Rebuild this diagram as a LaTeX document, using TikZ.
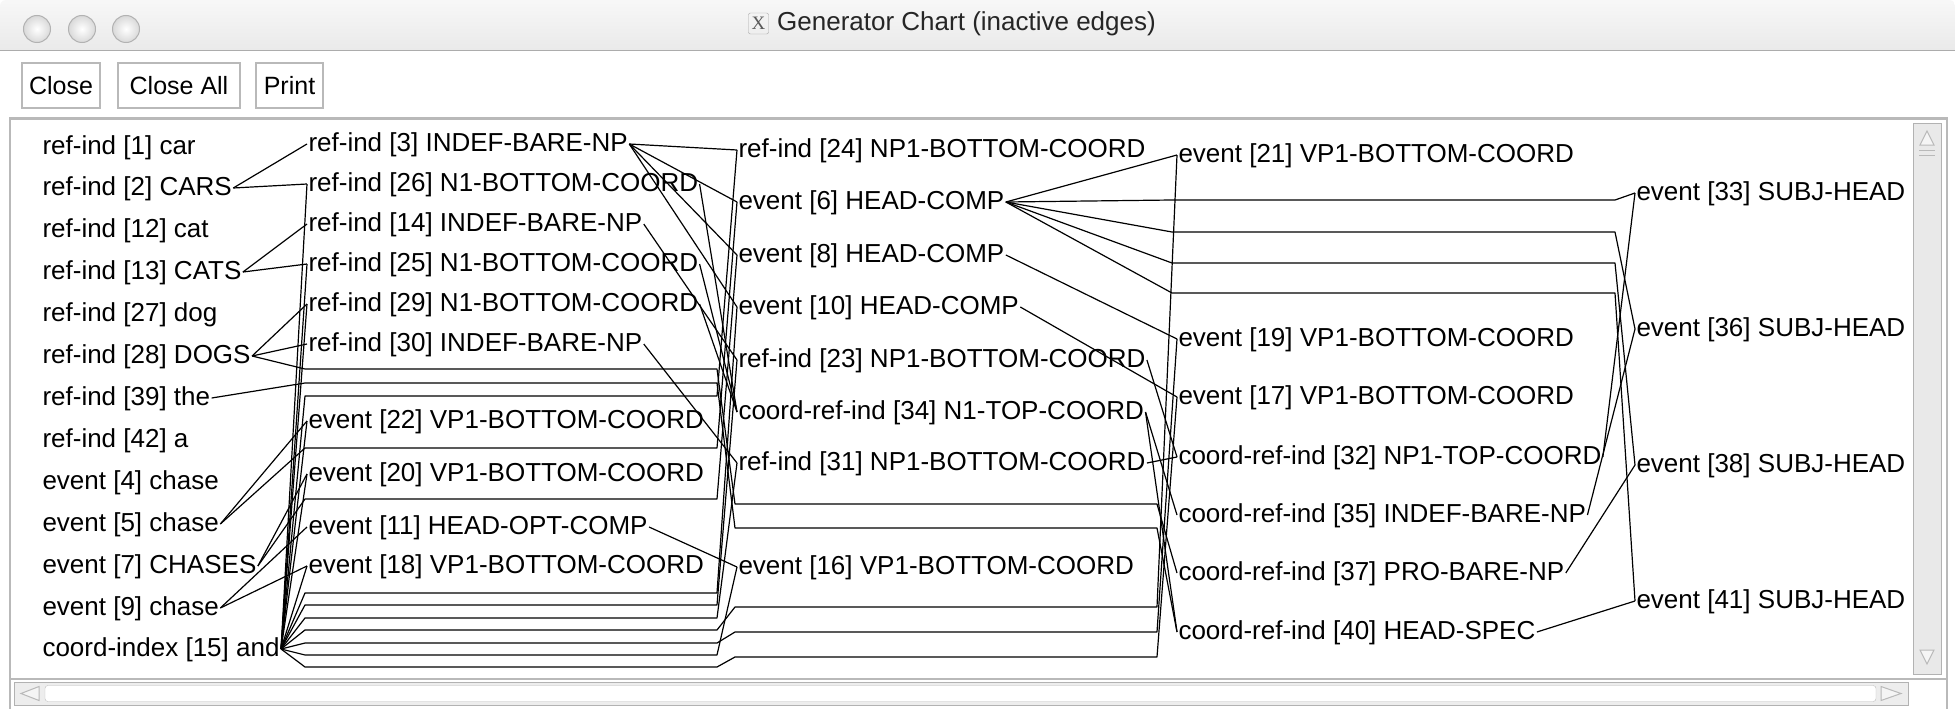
\documentclass[tikz,border=0pt]{standalone}
\usepackage{fontspec}
\setmainfont{Liberation Sans}
\newfontfamily\serifx{Liberation Serif}
\begin{document}
\begin{tikzpicture}[x=1pt,y=-1pt,
  lbl/.style={anchor=west,inner sep=0pt,outer sep=1.5pt,font=\fontsize{26}{30}\selectfont,text height=19pt,text depth=5pt},
  edge/.style={line width=1.2pt,black,line join=round},
  btn/.style={draw=gray!55,fill=white,line width=2pt,inner sep=0pt,font=\fontsize{25}{30}\selectfont,minimum height=44pt},
  chrome/.style={draw=gray!60,line width=1pt}]
\useasboundingbox (0,0) rectangle (1955,709);
\fill[white] (0,0) rectangle (1955,709);
% ---------- window chrome ----------
\shade[top color=gray!6,bottom color=gray!18,rounded corners=6pt] (0,0) rectangle (1955,56);
\fill[white] (0,51) rectangle (1955,709);
\draw[gray!65,line width=1.5pt] (0,50.5) -- (1955,50.5);
\foreach \cx in {37,82,126}{
  \shade[inner color=white,outer color=gray!30] (\cx,29) circle (13.5pt);
  \draw[gray!60,line width=1pt] (\cx,29) circle (13.5pt);
}
\node[draw=gray!70,rounded corners=2pt,minimum width=20pt,minimum height=21pt,inner sep=0pt,font=\serifx\fontsize{19}{20}\selectfont,text=gray!70!black] (xicon) at (758.5,23.5) {X};
\node[anchor=west,inner sep=0pt,font=\fontsize{26}{30}\selectfont,text=black!85] (title) at (777,23.5) {Generator Chart (inactive edges)};
\node[btn,minimum width=78pt] (bclose) at (61,85.5) {Close};
\node[btn,minimum width=122pt] (bcloseall) at (179,85.5) {Close All};
\node[btn,minimum width=67pt] (bprint) at (289.5,85.5) {Print};
% pane border
\draw[gray!55,line width=2.5pt] (10,709) -- (10,118.5) -- (1947,118.5) -- (1947,709);
% vertical scrollbar
\draw[chrome,fill=gray!17] (1913,123) rectangle (1941,674);
\draw[gray!55,fill=gray!8,line width=1pt] (1920,145) -- (1927,131) -- (1934,145) -- cycle;
\draw[gray!55,line width=1pt] (1919,150) -- (1935,150) (1919,155) -- (1935,155);
\draw[gray!55,fill=gray!8,line width=1pt] (1920,650) -- (1934,650) -- (1927,664) -- cycle;
% horizontal scrollbar
\draw[gray!55,line width=2pt] (10,679) -- (1947,679);
\draw[chrome,fill=gray!14] (14,682) rectangle (1908,705);
\draw[gray!50,fill=white,rounded corners=3pt] (45,685.5) rectangle (1876,701.5);
\draw[gray!55,fill=gray!8,line width=1pt] (39,686.5) -- (21,693.5) -- (39,700.5) -- cycle;
\draw[gray!55,fill=gray!8,line width=1pt] (1881,686.5) -- (1901,693.5) -- (1881,700.5) -- cycle;
% ---------- column 1 ----------
\node[lbl] (c1)  at (41,147) {ref-ind [1] car};
\node[lbl] (c2)  at (41,188) {ref-ind [2] CARS};
\node[lbl] (c12) at (41,230) {ref-ind [12] cat};
\node[lbl] (c13) at (41,272) {ref-ind [13] CATS};
\node[lbl] (c27) at (41,314) {ref-ind [27] dog};
\node[lbl] (c28) at (41,356) {ref-ind [28] DOGS};
\node[lbl] (c39) at (41,398) {ref-ind [39] the};
\node[lbl] (c42) at (41,440) {ref-ind [42] a};
\node[lbl] (c4)  at (41,482) {event [4] chase};
\node[lbl] (c5)  at (41,524) {event [5] chase};
\node[lbl] (c7)  at (41,566) {event [7] CHASES};
\node[lbl] (c9)  at (41,608) {event [9] chase};
\node[lbl] (c15) at (41,649) {coord-index [15] and};
% ---------- column 2 ----------
\node[lbl] (n3)  at (307,144) {ref-ind [3] INDEF-BARE-NP};
\node[lbl] (n26) at (307,184) {ref-ind [26] N1-BOTTOM-COORD};
\node[lbl] (n14) at (307,224) {ref-ind [14] INDEF-BARE-NP};
\node[lbl] (n25) at (307,264) {ref-ind [25] N1-BOTTOM-COORD};
\node[lbl] (n29) at (307,304) {ref-ind [29] N1-BOTTOM-COORD};
\node[lbl] (n30) at (307,344) {ref-ind [30] INDEF-BARE-NP};
\node[lbl] (n22) at (307,421) {event [22] VP1-BOTTOM-COORD};
\node[lbl] (n20) at (307,474) {event [20] VP1-BOTTOM-COORD};
\node[lbl] (n11) at (307,527) {event [11] HEAD-OPT-COMP};
\node[lbl] (n18) at (307,566) {event [18] VP1-BOTTOM-COORD};
% ---------- column 3 ----------
\node[lbl] (n24) at (737,150) {ref-ind [24] NP1-BOTTOM-COORD};
\node[lbl] (n6)  at (737,202) {event [6] HEAD-COMP};
\node[lbl] (n8)  at (737,255) {event [8] HEAD-COMP};
\node[lbl] (n10) at (737,307) {event [10] HEAD-COMP};
\node[lbl] (n23) at (737,360) {ref-ind [23] NP1-BOTTOM-COORD};
\node[lbl] (n34) at (737,412) {coord-ref-ind [34] N1-TOP-COORD};
\node[lbl] (n31) at (737,463) {ref-ind [31] NP1-BOTTOM-COORD};
\node[lbl] (n16) at (737,567) {event [16] VP1-BOTTOM-COORD};
% ---------- column 4 ----------
\node[lbl] (n21) at (1177,155) {event [21] VP1-BOTTOM-COORD};
\node[lbl] (n19) at (1177,339) {event [19] VP1-BOTTOM-COORD};
\node[lbl] (n17) at (1177,397) {event [17] VP1-BOTTOM-COORD};
\node[lbl] (n32) at (1177,457) {coord-ref-ind [32] NP1-TOP-COORD};
\node[lbl] (n35) at (1177,515) {coord-ref-ind [35] INDEF-BARE-NP};
\node[lbl] (n37) at (1177,573) {coord-ref-ind [37] PRO-BARE-NP};
\node[lbl] (n40) at (1177,632) {coord-ref-ind [40] HEAD-SPEC};
% ---------- column 5 ----------
\node[lbl] (n33) at (1635,193) {event [33] SUBJ-HEAD};
\node[lbl] (n36) at (1635,329) {event [36] SUBJ-HEAD};
\node[lbl] (n38) at (1635,465) {event [38] SUBJ-HEAD};
\node[lbl] (n41) at (1635,601) {event [41] SUBJ-HEAD};
% ---------- routing slots ----------
\foreach \nm/\yy in {sA/369,sB/383,sC/396,sD/448,sE/499,sF/593,sG/605,sH/618,sI/630,sJ/643,sK/655,sL/667}{
  \coordinate (\nm L) at (305,\yy); \coordinate (\nm R) at (717,\yy);}
\foreach \nm/\yy in {tA/504,tB/528,tC/607,tD/632,tE/657}{
  \coordinate (\nm L) at (735,\yy); \coordinate (\nm R) at (1157,\yy);}
\foreach \nm/\yy in {uA/200,uB/232,uC/263,uD/293}{
  \coordinate (\nm L) at (1172,\yy); \coordinate (\nm R) at (1615,\yy);}
% ---------- connectors: column 1 -> 2 ----------
\draw[edge] (c2.east) -- (n3.west);
\draw[edge] (c2.east) -- (n26.west);
\draw[edge] (c13.east) -- (n14.west);
\draw[edge] (c13.east) -- (n25.west);
\draw[edge] (c28.east) -- (n29.west);
\draw[edge] (c28.east) -- (n30.west);
\draw[edge] (c28.east) -- (sAL) -- (sAR) -- (tAL) -- (tAR) -- (n37.west);
\draw[edge] (c39.east) -- (sBL) -- (sBR) -- (tBL) -- (tBR) -- (n40.west);
\draw[edge] (c5.east) -- (n22.west);
\draw[edge] (c5.east) -- (sDL) -- (sDR) -- (n6.west);
\draw[edge] (c7.east) -- (n20.west);
\draw[edge] (c7.east) -- (sEL) -- (sER) -- (n8.west);
\draw[edge] (c9.east) -- (n11.west);
\draw[edge] (c9.east) -- (n18.west);
\draw[edge] (c15.east) -- (n26.west);
\draw[edge] (c15.east) -- (n25.west);
\draw[edge] (c15.east) -- (n29.west);
\draw[edge] (c15.east) -- (n22.west);
\draw[edge] (c15.east) -- (n20.west);
\draw[edge] (c15.east) -- (n18.west);
\draw[edge] (c15.east) -- (sCL) -- (sCR) -- (n24.west);
\draw[edge] (c15.east) -- (sFL) -- (sFR) -- (n10.west);
\draw[edge] (c15.east) -- (sGL) -- (sGR) -- (n23.west);
\draw[edge] (c15.east) -- (sHL) -- (sHR) -- (n31.west);
\draw[edge] (c15.east) -- (sIL) -- (sIR) -- (tCL) -- (tCR) -- (n21.west);
\draw[edge] (c15.east) -- (sJL) -- (sJR) -- (tDL) -- (tDR) -- (n19.west);
\draw[edge] (c15.east) -- (sKL) -- (sKR) -- (n16.west);
\draw[edge] (c15.east) -- (sLL) -- (sLR) -- (tEL) -- (tER) -- (n17.west);
% ---------- column 2 -> 3 ----------
\draw[edge] (n3.east) -- (n24.west);
\draw[edge] (n3.east) -- (n6.west);
\draw[edge] (n3.east) -- (n8.west);
\draw[edge] (n3.east) -- (n10.west);
\draw[edge] (n14.east) -- (n23.west);
\draw[edge] (n30.east) -- (n31.west);
\draw[edge] (n26.east) -- (n34.west);
\draw[edge] (n25.east) -- (n34.west);
\draw[edge] (n29.east) -- (n34.west);
\draw[edge] (n11.east) -- (n16.west);
% ---------- column 3 -> 4 ----------
\draw[edge] (n6.east) -- (n21.west);
\draw[edge] (n6.east) -- (uAL) -- (uAR) -- (n33.west);
\draw[edge] (n6.east) -- (uBL) -- (uBR) -- (n36.west);
\draw[edge] (n6.east) -- (uCL) -- (uCR) -- (n38.west);
\draw[edge] (n6.east) -- (uDL) -- (uDR) -- (n41.west);
\draw[edge] (n8.east) -- (n19.west);
\draw[edge] (n10.east) -- (n17.west);
\draw[edge] (n23.east) -- (n32.west);
\draw[edge] (n31.east) -- (n32.west);
\draw[edge] (n34.east) -- (n35.west);
\draw[edge] (n34.east) -- (n40.west);
% ---------- column 4 -> 5 ----------
\draw[edge] (n32.east) -- (n33.west);
\draw[edge] (n35.east) -- (n36.west);
\draw[edge] (n37.east) -- (n38.west);
\draw[edge] (n40.east) -- (n41.west);
\end{tikzpicture}
\end{document}
